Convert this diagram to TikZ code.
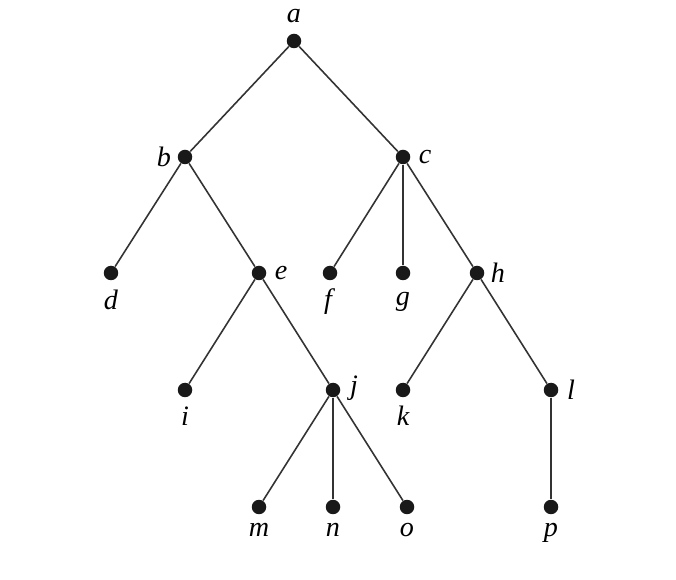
\documentclass[tikz,border=0pt]{standalone}
\usepackage{fontspec}
\setmainfont{Liberation Serif}
\usepackage{tikz}

\tikzset{
    vertex/.style={circle, fill=black!90, inner sep=0pt, minimum size=0.29cm},
    edge/.style={black!80, line width=0.9pt},
    lbl/.style={font=\fontsize{16}{18}\selectfont\itshape, inner sep=0pt}
}

\begin{document}
\begin{tikzpicture}[x=0.02cm, y=-0.02cm]
        \useasboundingbox (0, 0) rectangle (676, 580);

        % Draw the vertices
        \node[vertex] (a) at (294, 41) {};
        \node[vertex] (b) at (185, 157) {};
        \node[vertex] (c) at (403, 157) {};
        \node[vertex] (d) at (111, 273) {};
        \node[vertex] (e) at (259, 273) {};
        \node[vertex] (f) at (330, 273) {};
        \node[vertex] (g) at (403, 273) {};
        \node[vertex] (h) at (477, 273) {};
        \node[vertex] (i) at (185, 390) {};
        \node[vertex] (j) at (333, 390) {};
        \node[vertex] (k) at (403, 390) {};
        \node[vertex] (l) at (551, 390) {};
        \node[vertex] (m) at (259, 507) {};
        \node[vertex] (n) at (333, 507) {};
        \node[vertex] (o) at (407, 507) {};
        \node[vertex] (p) at (551, 507) {};

        % Draw the edges
        \draw[edge] (a) -- (b);
        \draw[edge] (a) -- (c);
        \draw[edge] (b) -- (d);
        \draw[edge] (b) -- (e);
        \draw[edge] (c) -- (f);
        \draw[edge] (c) -- (g);
        \draw[edge] (c) -- (h);
        \draw[edge] (e) -- (i);
        \draw[edge] (e) -- (j);
        \draw[edge] (h) -- (k);
        \draw[edge] (h) -- (l);
        \draw[edge] (j) -- (m);
        \draw[edge] (j) -- (n);
        \draw[edge] (j) -- (o);
        \draw[edge] (l) -- (p);

        % Label the vertices
        \node[lbl] (la) at (294, 16) {a};
        \node[lbl] (lb) at (164, 157) {b};
        \node[lbl] (lc) at (425, 157) {c};
        \node[lbl] (ld) at (111, 300) {d};
        \node[lbl] (le) at (281, 273) {e};
        \node[lbl] (lf) at (328, 302) {f};
        \node[lbl] (lg) at (403, 302) {g};
        \node[lbl] (lh) at (498, 273) {h};
        \node[lbl] (li) at (185, 416) {i};
        \node[lbl] (lj) at (354, 388) {j};
        \node[lbl] (lk) at (403, 416) {k};
        \node[lbl] (ll) at (571, 390) {l};
        \node[lbl] (lm) at (259, 530) {m};
        \node[lbl] (ln) at (333, 530) {n};
        \node[lbl] (lo) at (407, 530) {o};
        \node[lbl] (lp) at (551, 533) {p};
    \end{tikzpicture}
\end{document}
